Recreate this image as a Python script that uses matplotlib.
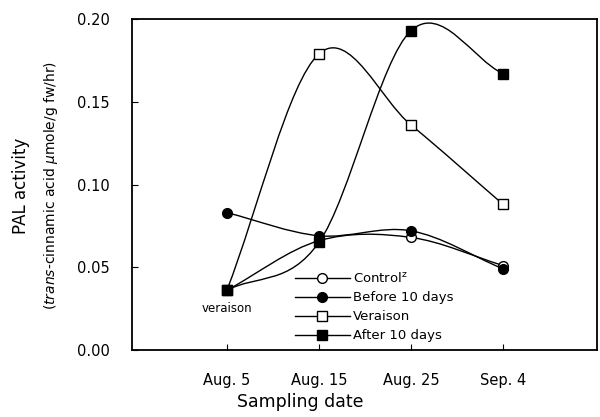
import matplotlib
matplotlib.use("Agg")
import matplotlib.pyplot as plt
from matplotlib.path import Path
from matplotlib.patches import PathPatch
import numpy as np

dates = ["Aug. 5", "Aug. 15", "Aug. 25", "Sep. 4"]
control = [0.036, 0.066, 0.068, 0.051]
before_10 = [0.083, 0.069, 0.072, 0.049]
veraison = [0.036, 0.179, 0.136, 0.088]
after_10 = [0.036, 0.065, 0.193, 0.167]


def smooth_path(x, y) -> Path:
    # Catmull-Rom through the points, drawn as cubic bezier segments
    pts = np.column_stack([x, y]).astype(float)
    ext = np.vstack([2 * pts[0] - pts[1], pts, 2 * pts[-1] - pts[-2]])
    verts = [pts[0]]
    codes = [Path.MOVETO]
    for i in range(1, len(ext) - 2):
        p0, p1, p2, p3 = ext[i - 1], ext[i], ext[i + 1], ext[i + 2]
        verts += [p1 + (p2 - p0) / 6, p2 - (p3 - p1) / 6, p2]
        codes += [Path.CURVE4] * 3
    return Path(verts, codes)


def plot_data() -> None:
    fig = plt.figure(figsize=(6, 4.17), dpi=100)
    ax = fig.add_axes([0.22, 0.161, 0.775, 0.793])
    x = np.arange(len(dates))

    series = [
        (control, "o", "white", r"Control$^{\rm z}$"),
        (before_10, "o", "black", "Before 10 days"),
        (veraison, "s", "white", "Veraison"),
        (after_10, "s", "black", "After 10 days"),
    ]
    for vals, mk, fc, lab in series:
        ax.add_patch(PathPatch(smooth_path(x, vals), fill=False, lw=1.0,
                               edgecolor="black", zorder=2))
        ax.plot(x, vals, ls="none", marker=mk, ms=7, mfc=fc,
                mec="black", mew=1.0, zorder=3)
        ax.plot([], [], color="black", lw=1.0, marker=mk, ms=7,
                mfc=fc, mec="black", label=lab)

    ax.text(0, 0.029, "veraison", ha="center", va="top", fontsize=8.5)

    ax.set_xlim(-1.03, 4.02)
    ax.set_ylim(0, 0.20)
    ax.set_xticks(x)
    ax.set_xticklabels(dates)
    ax.set_yticks([0, 0.05, 0.10, 0.15, 0.20])
    ax.set_yticklabels(["0.00", "0.05", "0.10", "0.15", "0.20"])
    ax.tick_params(direction="in", length=4, labelsize=10.5, pad=16)
    ax.tick_params(axis="x", pad=17)
    for s in ax.spines.values():
        s.set_linewidth(1.3)

    ax.legend(loc="lower left", bbox_to_anchor=(0.33, -0.005), frameon=False,
              fontsize=9.5, handlelength=4.2, handletextpad=0.2,
              labelspacing=0.45, borderaxespad=0.3)

    fig.text(0.5, 0.025, "Sampling date", ha="center", fontsize=12.5)
    fig.text(0.035, 0.555, "PAL activity", rotation=90, ha="center",
             va="center", fontsize=12)
    fig.text(0.085, 0.555,
             r"($\it{trans}$-cinnamic acid $\mu$mole/g fw/hr)",
             rotation=90, ha="center", va="center", fontsize=10)

    fig.savefig("out.png", dpi=100)


def main() -> None:
    plot_data()


if __name__ == "__main__":
    main()
